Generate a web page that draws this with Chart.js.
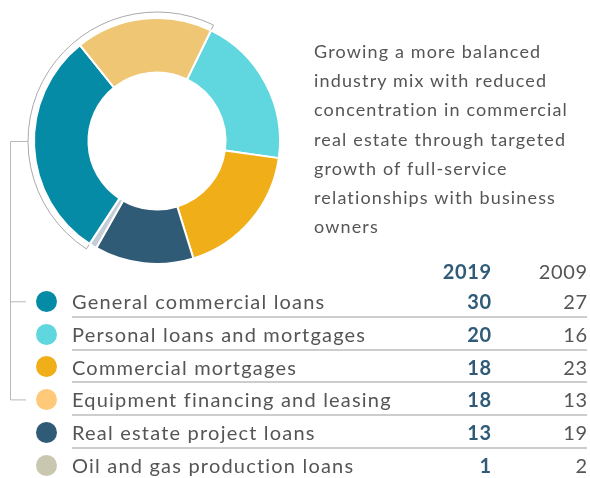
<!DOCTYPE html>
<html>
<head>
<meta charset="utf-8">
<script src="https://cdn.jsdelivr.net/npm/chart.js@4/dist/chart.umd.min.js"></script>
<style>
    body { margin: 0; background: #fff; font-family: Lato, "Noto Sans", sans-serif; color: #555; }
    #wrap { position: relative; width: 590px; height: 478px; overflow: hidden; }
    #ring { position: absolute; left: 0; top: 0; }
    #blurb { position: absolute; left: 314px; top: 37px; font-size: 18px; letter-spacing: 1.15px; line-height: 29.2px; color: #555; white-space: nowrap; }
    #kopf { position: absolute; left: 72px; top: 255px; width: 515px; height: 32px; line-height: 32px; font-size: 20px; letter-spacing: 1px; }
    .zeile { position: absolute; left: 72px; width: 515px; height: 32.7px; line-height: 32px; font-size: 20px; letter-spacing: 1.2px; box-sizing: border-box; }
    .zeile.strich { border-bottom: 2px solid #cdcdcd; }
    .name, .wert, .alt { position: absolute; top: 0; }
    .name { left: 0; }
    .wert { right: 96px; font-weight: bold; color: #2f5b78; }
    .alt { right: 0; }
    .wert, .alt { letter-spacing: 0.6px; margin-right: -0.6px; }
    .punkt { position: absolute; left: -36px; top: 5.8px; width: 21px; height: 21px; border-radius: 50%; }
</style>
</head>
<body>
<div id="wrap">
    <canvas id="ring" width="590" height="478"></canvas>
    <div id="blurb">
        Growing a more balanced<br>
        industry mix with reduced<br>
        concentration in commercial<br>
        real estate through targeted<br>
        growth of full-service<br>
        relationships with business<br>
        owners
    </div>
    <div id="kopf"><span class="wert"></span><span class="alt"></span></div>
    <div id="zeilen"></div>
</div>
<script>
// loan portfolio mix, in percent
const kategorije = ['General commercial loans', 'Personal loans and mortgages', 'Commercial mortgages',
    'Equipment financing and leasing', 'Real estate project loans', 'Oil and gas production loans']
const udio2019 = [30, 20, 18, 18, 13, 1]
const udio2009 = [27, 16, 23, 13, 19, 2]
const godine = ['2019', '2009']

const bojeLegende = ['#068ba7', '#60d6df', '#f0ae19', '#fec978', '#2f5b77', '#c9c7af']
const bojePrstena = ['#068ba7', '#60d6df', '#f0ae19', '#efc674', '#2f5b77', '#c4ccd7']

// clockwise order of the slices in the ring, starting at the top right
const redoslijed = [1, 2, 4, 5, 0, 3]
// slices grouped by the thin arc and the bracket (general commercial + equipment)
const grupaOd = 0
const grupaDo = 3

document.querySelectorAll('#kopf span')[0].textContent = godine[0]
document.querySelectorAll('#kopf span')[1].textContent = godine[1]

const zeilen = document.getElementById('zeilen')
const rowTop = 285.3
const rowH = 32.7
kategorije.forEach((naziv, i) => {
    const red = document.createElement('div')
    red.className = 'zeile' + (i < kategorije.length - 1 ? ' strich' : '')
    red.style.top = (rowTop + i * rowH) + 'px'
    red.innerHTML = `<span class="punkt" style="background:${bojeLegende[i]}"></span>
        <span class="name">${naziv}</span><span class="wert">${udio2019[i]}</span><span class="alt">${udio2009[i]}</span>`
    zeilen.appendChild(red)
})

// thin gray arc around the grouped slices, plus the bracket down to the legend
const zagrada = {
    id: 'zagrada',
    afterDraw: (chart) => {
        const ctx = chart.ctx
        const arcs = chart.getDatasetMeta(0).data
        const prvi = arcs[redoslijed.indexOf(grupaOd)]
        const zadnji = arcs[redoslijed.indexOf(grupaDo)]
        const cx = prvi.x
        const cy = prvi.y
        const r = prvi.outerRadius + 6
        const a0 = prvi.startAngle
        const a1 = zadnji.endAngle

        ctx.save()
        ctx.strokeStyle = '#a9a9a9'
        ctx.lineWidth = 1
        ctx.beginPath()
        ctx.arc(cx, cy, r, a0, a1)
        ctx.stroke()
        // small ticks at both ends
        for (const a of [a0, a1]) {
            ctx.beginPath()
            ctx.moveTo(cx + Math.cos(a) * r, cy + Math.sin(a) * r)
            ctx.lineTo(cx + Math.cos(a) * (r - 5), cy + Math.sin(a) * (r - 5))
            ctx.stroke()
        }

        const yPrvi = rowTop + grupaOd * rowH + 16.5
        const yZadnji = rowTop + grupaDo * rowH + 16.5
        ctx.strokeStyle = '#b8b8b8'
        ctx.beginPath()
        ctx.moveTo(cx - r, cy + 0.5)
        ctx.lineTo(10.5, cy + 0.5)
        ctx.lineTo(10.5, yZadnji)
        ctx.lineTo(26, yZadnji)
        ctx.moveTo(10.5, yPrvi)
        ctx.lineTo(26, yPrvi)
        ctx.stroke()
        ctx.restore()
    }
}

new Chart(document.getElementById('ring'), {
    type: 'doughnut',
    data: {
        labels: redoslijed.map(i => kategorije[i]),
        datasets: [{
            data: redoslijed.map(i => udio2019[i]),
            backgroundColor: redoslijed.map(i => bojePrstena[i]),
            borderColor: '#fff',
            borderWidth: 2
        }]
    },
    options: {
        responsive: false,
        animation: false,
        rotation: 26,
        radius: 123,
        cutout: 78,
        layout: { padding: { left: 0, top: 0, right: 276, bottom: 196 } },
        plugins: { legend: { display: false }, tooltip: { enabled: false } }
    },
    plugins: [zagrada]
})
</script>
</body>
</html>
